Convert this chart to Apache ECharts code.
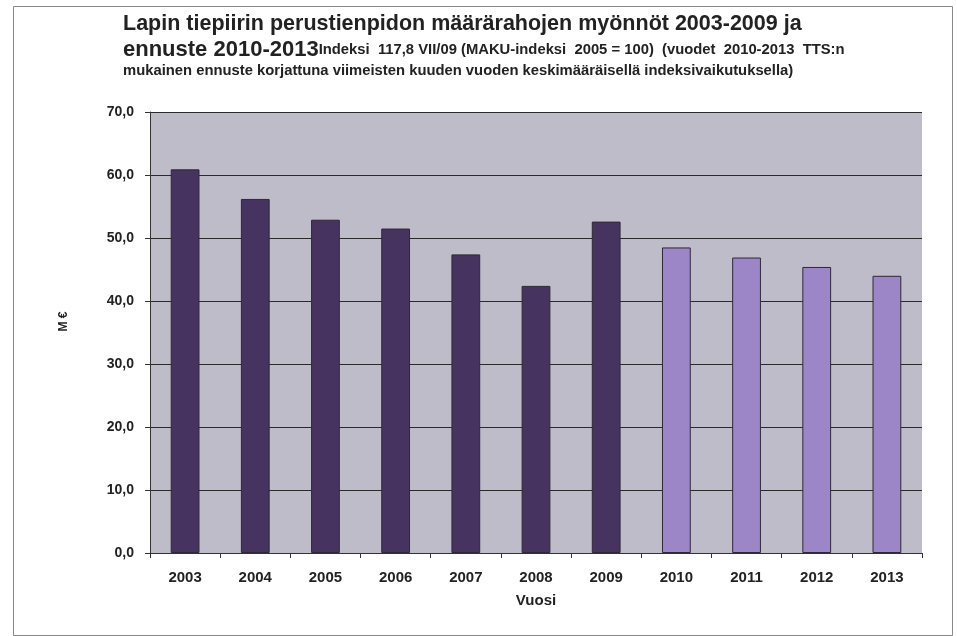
<!DOCTYPE html>
<html><head><meta charset="utf-8">
<script src="https://cdn.jsdelivr.net/npm/echarts@6/dist/echarts.min.js"></script>
<style>html,body{margin:0;padding:0;background:#fff}#c{width:957px;height:636px}</style>
</head><body><div id="c"></div>
<script>
const years = ['2003','2004','2005','2006','2007','2008','2009','2010','2011','2012','2013'];
const values = [60.9, 56.2, 52.9, 51.5, 47.4, 42.4, 52.6, 48.5, 46.9, 45.4, 44.0];
const forecast = [false,false,false,false,false,false,false,true,true,true,true];
const yTicks = [0,10,20,30,40,50,60,70];

const chart = echarts.init(document.getElementById('c'));
const font = '"Liberation Sans", Arial, sans-serif';
chart.setOption({
  animation: false,
  backgroundColor: '#fff',
  title: {
    left: 118, top: 6,
    text: '{a|Lapin tiepiirin perustienpidon määrärahojen myönnöt 2003-2009 ja}\n{c|ennuste 2010-2013}{b|Indeksi  117,8 VII/09 (MAKU-indeksi  2005 = 100)  (vuodet  2010-2013  TTS:n}\n{b|mukainen ennuste korjattuna viimeisten kuuden vuoden keskimääräisellä indeksivaikutuksella)}',
    textStyle: {
      fontFamily: font,
      rich: {
        a: {fontFamily: font, fontSize: 21.5, fontWeight: 'bold', color: '#222', lineHeight: 26},
        c: {fontFamily: font, fontSize: 22, fontWeight: 'bold', color: '#222', lineHeight: 25},
        b: {fontFamily: font, fontSize: 14.8, fontWeight: 'bold', color: '#222', lineHeight: 17}
      }
    }
  },
  grid: {left: 150, right: 35, top: 112, bottom: 83, show: true, backgroundColor: '#bdbcc8', borderWidth: 0},
  xAxis: {
    type: 'category', data: years,
    name: 'Vuosi', nameLocation: 'middle', nameGap: 40,
    nameTextStyle: {fontFamily: font, fontSize: 15, fontWeight: 'bold', color: '#222'},
    axisLine: {lineStyle: {color: '#333', width: 1}},
    axisTick: {show: true, length: 5, lineStyle: {color: '#333'}},
    axisLabel: {fontFamily: font, fontSize: 15, fontWeight: 'bold', color: '#222', margin: 17}
  },
  yAxis: {
    type: 'value', min: 0, max: 70, interval: 10,
    name: 'M €', nameLocation: 'middle', nameGap: 80, nameRotate: 90,
    nameTextStyle: {fontFamily: font, fontSize: 12, fontWeight: 'bold', color: '#222', padding: [0, 0, 0, 22]},
    axisLine: {show: true, lineStyle: {color: '#333', width: 1}},
    axisTick: {show: true, length: 5, lineStyle: {color: '#333'}},
    axisLabel: {fontFamily: font, fontSize: 14, fontWeight: 'bold', color: '#222', margin: 16,
      formatter: v => yTicks.includes(v) ? v.toFixed(1).replace('.', ',') : ''},
    splitLine: {lineStyle: {color: '#2a2a2a', width: 1}}
  },
  series: [{
    type: 'bar', data: values, barWidth: '41%',
    itemStyle: {
      color: p => forecast[p.dataIndex] ? '#9d86c8' : '#47335f',
      borderColor: '#2e2838', borderWidth: 1
    }
  }],
  graphic: [{
    type: 'rect', left: 11, top: 4, silent: true,
    shape: {width: 939, height: 629},
    style: {fill: 'none', stroke: '#888', lineWidth: 1}
  }]
});
</script></body></html>
